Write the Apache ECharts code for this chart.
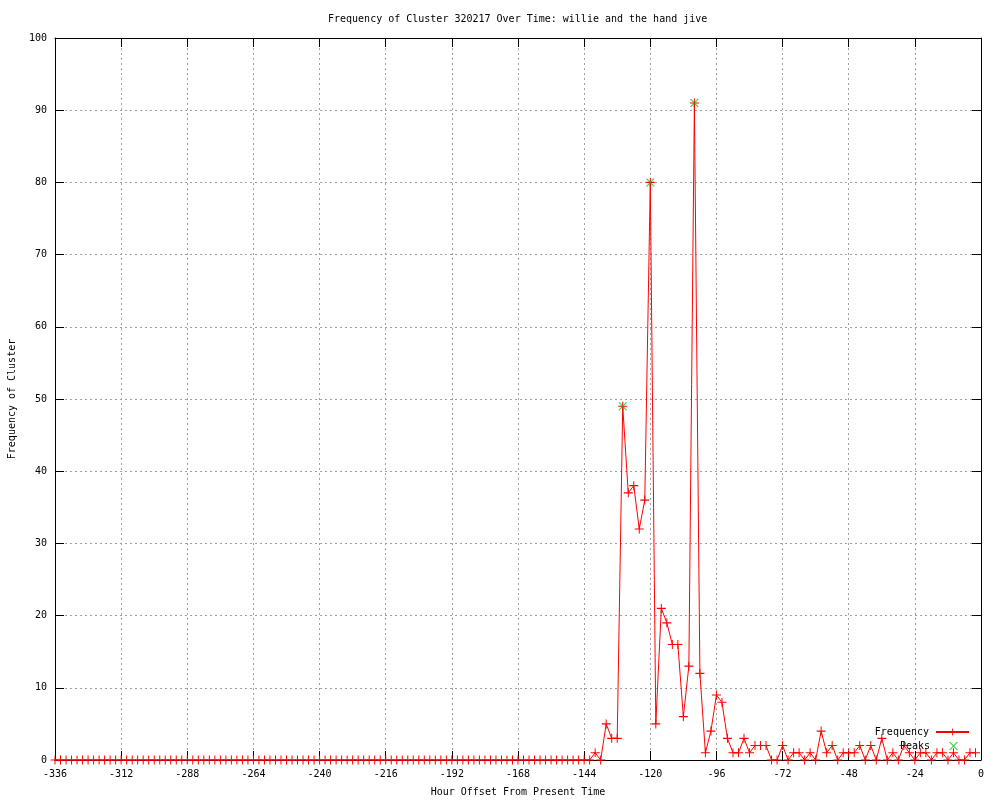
<!DOCTYPE html>
<html>
<head>
<meta charset="utf-8">
<script src="https://cdn.jsdelivr.net/npm/echarts@6/dist/echarts.min.js"></script>
<style>
  html, body { margin: 0; padding: 0; background: #fff; }
  #chart { width: 1000px; height: 800px; }
</style>
</head>
<body>
<div id="chart"></div>
<script>
// hour offsets: every 2 hours from -336 to -2
var hours = [];
for (var h = -336; h <= -2; h += 2) hours.push(h);

// frequency per 2-hour bucket, -336 .. -2
var frequency = [
  0,0,0,0,0,0,0,0,0,0, 0,0,0,0,0,0,0,0,0,0,
  0,0,0,0,0,0,0,0,0,0, 0,0,0,0,0,0,0,0,0,0,
  0,0,0,0,0,0,0,0,0,0, 0,0,0,0,0,0,0,0,0,0,
  0,0,0,0,0,0,0,0,0,0, 0,0,0,0,0,0,0,0,0,0,
  0,0,0,0,0,0,0,0,0,0, 0,0,0,0,0,0,0,      // -336 .. -144
  0, 1, 0, 5, 3, 3, 49, 37, 38, 32,          // -142 .. -124
  36, 80, 5, 21, 19, 16, 16, 6, 13, 91,      // -122 .. -104
  12, 1, 4, 9, 8, 3, 1, 1, 3, 1,             // -102 .. -84
  2, 2, 2, 0, 0, 2, 0, 1, 1, 0,              // -82 .. -64
  1, 0, 4, 1, 2, 0, 1, 1, 1, 2,              // -62 .. -44
  0, 2, 0, 3, 0, 1, 0, 2, 1, 0,              // -42 .. -24
  1, 1, 0, 1, 1, 0, 1, 0, 0, 1,              // -22 .. -4
  1                                          // -2
];

var peakHours = [-130, -120, -104];
var peakValues = [49, 80, 91];

var xTicks = { min: -336, max: 0, interval: 24 };
var yTicks = { min: 0, max: 100, interval: 10 };

var FONT = "DejaVu Sans Mono";
var plusPath = "path://M0,3.5h9v1h-9z M4,0h1v8h-1z";
var crossPath = "path://M0,0h1.4l7.6,8h-1.4z M7.6,0h1.4l-7.6,8h-1.4z";

var chart = echarts.init(document.getElementById("chart"));

var freqData = hours.map(function (h, i) { return [h, frequency[i]]; });
var peakData = peakHours.map(function (h, i) { return [h, peakValues[i]]; });

function axisCommon(extra) {
    return Object.assign({
        type: "value",
        axisLine: { show: true, onZero: false, lineStyle: { color: "#000", width: 1 } },
        axisTick: { show: true, inside: true, length: 9, lineStyle: { color: "#000" } },
        axisLabel: { color: "#000", fontFamily: FONT, fontSize: 10 },
        splitLine: { show: false },
    }, extra);
}

chart.setOption({
    animation: false,
    backgroundColor: "#fff",
    title: {
        text: "Frequency of Cluster 320217 Over Time: willie and the hand jive",
        left: 323,
        top: 9,
        textStyle: { fontFamily: FONT, fontSize: 10, fontWeight: "normal", color: "#000" },
    },
    grid: { left: 55, right: 19, top: 38, bottom: 40, containLabel: false, outerBoundsMode: "none" },
    legend: [
        {
            data: ["Frequency"],
            right: 30,
            top: 727,
            align: "right",
            itemWidth: 33,
            itemHeight: 9,
            padding: 0,
            textStyle: { fontFamily: FONT, fontSize: 10, color: "#000", padding: [0, 2, 0, 0] },
        },
        {
            data: ["Peaks"],
            right: 42,
            top: 741,
            align: "right",
            itemWidth: 9,
            itemHeight: 9,
            padding: 0,
            textStyle: { fontFamily: FONT, fontSize: 10, color: "#000", padding: [0, 14, 0, 0] },
        },
    ],
    xAxis: [
        axisCommon({
            min: xTicks.min, max: xTicks.max, interval: xTicks.interval,
            name: "Hour Offset From Present Time",
            nameLocation: "middle",
            nameGap: 27,
            nameTextStyle: { fontFamily: FONT, fontSize: 10, color: "#000" },
            axisLabel: { color: "#000", fontFamily: FONT, fontSize: 10, margin: 9 },
            splitLine: { show: true, lineStyle: { color: "#a0a0a0", type: [2, 3], width: 1 } },
        }),
        axisCommon({
            position: "top",
            min: xTicks.min, max: xTicks.max, interval: xTicks.interval,
            axisLabel: { show: false },
        }),
    ],
    yAxis: [
        axisCommon({
            min: yTicks.min, max: yTicks.max, interval: yTicks.interval,
            name: "Frequency of Cluster",
            nameLocation: "middle",
            nameGap: 38,
            nameRotate: 90,
            nameTextStyle: { fontFamily: FONT, fontSize: 10, color: "#000" },
            axisLabel: { color: "#000", fontFamily: FONT, fontSize: 10, margin: 8 },
            splitLine: { show: true, lineStyle: { color: "#a0a0a0", type: [2, 3], width: 1 } },
        }),
        axisCommon({
            position: "right",
            min: yTicks.min, max: yTicks.max, interval: yTicks.interval,
            axisLabel: { show: false },
        }),
    ],
    series: [
        {
            name: "Frequency",
            type: "line",
            data: freqData,
            symbol: plusPath,
            symbolSize: 9,
            showAllSymbol: true,
            lineStyle: { color: "#ff0000", width: 1 },
            itemStyle: { color: "#ff0000" },
            z: 3,
        },
        {
            name: "Peaks",
            type: "scatter",
            data: peakData,
            symbol: crossPath,
            symbolSize: [9, 8],
            itemStyle: { color: "#00c000" },
            z: 4,
        },
    ],
});
</script>
</body>
</html>
